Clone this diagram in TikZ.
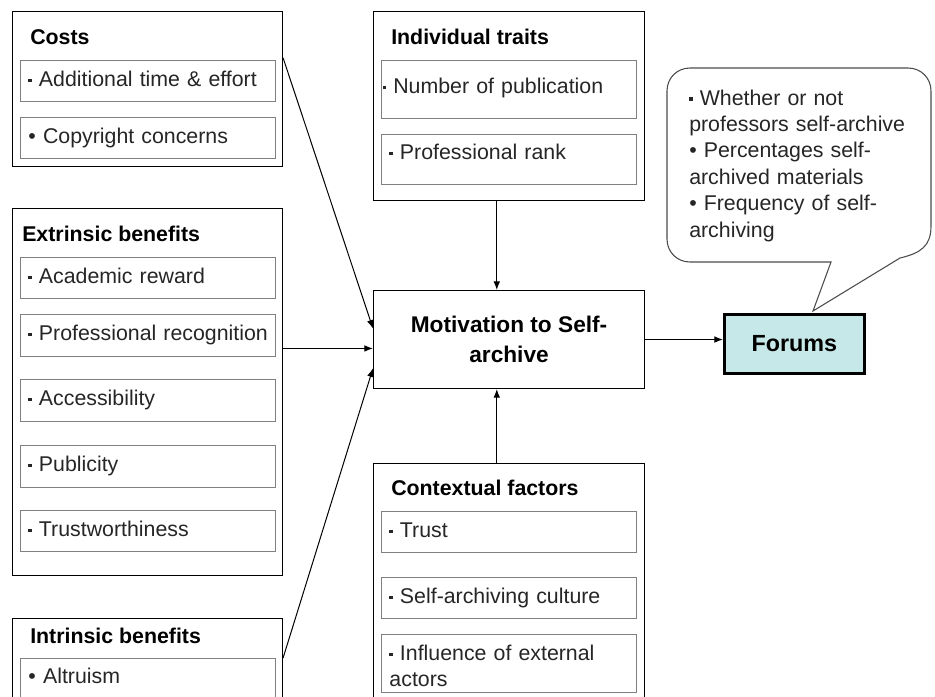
\documentclass[tikz,border=0pt]{standalone}
\usepackage{fontspec}
\setmainfont{Liberation Sans}
\usetikzlibrary{arrows.meta,calc}
\definecolor{forumfill}{RGB}{198,232,232}
\definecolor{boxgray}{RGB}{128,128,128}
\newcommand\sqb{\raisebox{0.2em}{\rule{0.16em}{0.16em}}}
\newcommand\ind{\hspace*{3pt}}
\hyphenpenalty=10000
\exhyphenpenalty=10000
\begin{document}
\begin{tikzpicture}[x=0.75pt,y=-0.75pt,
  outer/.style={draw=black, line width=0.8pt, anchor=north west, inner sep=0pt, minimum width=202.5pt},
  ibox/.style={draw=boxgray, line width=0.7pt, anchor=north west, inner xsep=3pt, inner ysep=0pt,
    text width=185.25pt, align=left, text height=19.5pt, text depth=11.25pt,
    font=\fontsize{16pt}{19.8pt}\selectfont, text=black!85},
  head/.style={anchor=base west, inner sep=0pt, font=\bfseries\fontsize{16pt}{19.8pt}\selectfont},
  conn/.style={line width=0.75pt, -{Latex[length=6.5pt,width=5pt]}},
  bubble/.style={draw=black!70, line width=0.8pt},
]
\useasboundingbox (0,0) rectangle (935,696);
\fill[white] (0,0) rectangle (935,696);
\clip (0,0) rectangle (935,696);

% Costs
\node[outer, minimum height=116.25pt] (costs) at (12,11) {};
\node[head] (costsh) at (30,44) {Costs};
\node[ibox] (c1) at (20,60) {\ind\sqb\ Additional time \& effort};
\node[ibox] (c2) at (20,117) {\ind• Copyright concerns};

% Extrinsic benefits
\node[outer, minimum height=275.25pt] (extr) at (12,208) {};
\node[head] (extrh) at (22,241) {Extrinsic benefits};
\node[ibox] (e1) at (20,257) {\ind\sqb\ Academic reward};
\node[ibox, text depth=12pt] (e2) at (20,314) {\ind\sqb\ Professional recognition};
\node[ibox, text depth=12pt] (e3) at (20,379) {\ind\sqb\ Accessibility};
\node[ibox, text depth=12pt] (e4) at (20,445) {\ind\sqb\ Publicity};
\node[ibox] (e5) at (20,510) {\ind\sqb\ Trustworthiness};

% Intrinsic benefits
\node[outer, minimum height=91.5pt] (intr) at (12,618) {};
\node[head] (intrh) at (30,643) {Intrinsic benefits};
\node[ibox, text height=18.75pt, text depth=30pt] (i1) at (20,658) {\ind• Altruism};

% Individual traits
\node[outer, minimum width=203.25pt, minimum height=141.75pt] (indiv) at (373,11) {};
\node[head] (indivh) at (391,44) {Individual traits};
\node[ibox, text height=24.75pt, text depth=18.75pt] (n1) at (381,60) {\hspace*{-2pt}\sqb\ Number of publication};
\node[ibox, text height=18.75pt, text depth=18.75pt] (n2) at (381,134) {\ind\sqb\ Professional rank};

% Motivation
\node[draw, line width=0.8pt, anchor=north west, minimum width=203.25pt, minimum height=73.5pt,
  align=center, font=\bfseries\fontsize{17pt}{23pt}\selectfont] (mot) at (373,290) {Motivation to Self-\\archive};

% Contextual factors
\node[outer, minimum width=203.25pt, minimum height=207.75pt] (ctx) at (373,463) {};
\node[head] (ctxh) at (391,495) {Contextual factors};
\node[ibox] (t1) at (381,511) {\ind\sqb\ Trust};
\node[ibox] (t2) at (381,577) {\ind\sqb\ Self-archiving culture};
\node[ibox, text depth=24pt] (t3) at (381,634) {\ind\sqb\ Influence of external\\\ind actors};

% Forums
\node[draw, line width=2pt, fill=forumfill, anchor=north west, minimum width=105pt, minimum height=44.25pt,
  font=\bfseries\fontsize{17.5pt}{20pt}\selectfont] (forums) at (723,313) {Forums};

% Speech bubble
\draw[bubble] (831,262) -- (690,262) .. controls (677,262) and (667,252) .. (667,239)
  -- (667,91) .. controls (667,78) and (677,68) .. (690,68)
  -- (908,68) .. controls (921,68) and (931,78) .. (931,91)
  -- (931,226) .. controls (931,246) and (921,253) .. (900,258) -- (813,311) -- cycle;
\node[anchor=base west, inner sep=0pt, text width=180pt, align=left,
  font=\fontsize{16pt}{19.8pt}\selectfont, text=black!85] (bubtext) at (689,105)
  {\sqb\ Whether or not\\professors self-archive\\• Percentages self-\\archived materials\\• Frequency of self-\\archiving};

% Connectors
\coordinate (ma) at ($(mot.north west)!0.39!(mot.south west)$);
\coordinate (mx) at ($(mot.north west)!0.59!(mot.south west)$);
\coordinate (mb) at ($(mot.north west)!0.79!(mot.south west)$);
\coordinate (vx) at ($(mot.north west)!0.455!(mot.north east)$);
\draw[conn] ($(costs.north east)!0.3!(costs.south east)$) -- (ma);
\draw[conn] (extr.east |- mx) -- (mx);
\draw[conn] ($(intr.north east)+(0,40)$) -- (mb);
\draw[conn] (indiv.south -| vx) -- (vx);
\draw[conn] (ctx.north -| vx) -- (mot.south -| vx);
\draw[conn] (mot.east) -- (mot.east -| forums.west);
\end{tikzpicture}
\end{document}
